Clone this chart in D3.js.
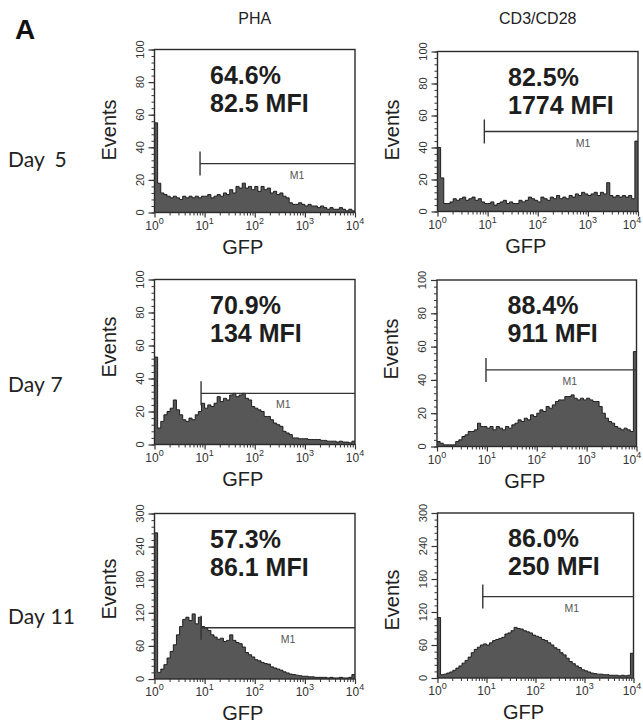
<!DOCTYPE html>
<html><head><meta charset="utf-8">
<script src="https://cdn.jsdelivr.net/npm/d3@7/dist/d3.min.js"></script>
<style>body{margin:0;background:#fff}svg{display:block}</style>
</head><body>
<script>
// ---------- DATA ----------
const conditions = ["PHA", "CD3/CD28"];
const days = ["Day 5", "Day 7", "Day 11"];
const percents = ["64.6%", "82.5%", "70.9%", "88.4%", "57.3%", "86.0%"];
const mfis = ["82.5 MFI", "1774 MFI", "134 MFI", "911 MFI", "86.1 MFI", "250 MFI"];
const yMaxes = [100, 100, 100, 100, 300, 300];
const yTicks100 = [0, 20, 40, 60, 80, 100];
const yTicks300 = [0, 60, 120, 180, 240, 300];
const xTicks = [1, 10, 100, 1000, 10000];
const xTickExps = ["0", "1", "2", "3", "4"];
const gateStart = [8.1, 8.6, 8.5, 9.6, 8.5, 8.4];
const gateLevel = [30, 50, 31, 46, 93, 148];
const gateLabelAt = [700, 800, 370, 460, 460, 550];

// 64 log-spaced channels from 10^0 to 10^4
const pha5 = [55,18,12,11,10,9,10,9,8,10,9,10,9,10,9,10,10,11,9,10,11,10,12,11,14,12,16,15,18,15,16,14,16,13,16,14,15,12,13,11,12,10,9,6,5,5,6,5,4,5,4,4,3,4,3,2,3,2,2,3,2,1,2,1];
const cd5 = [40,21,5,5,6,8,7,8,9,7,8,9,7,8,6,5,5,6,4,5,6,7,5,6,5,5,7,6,7,9,8,7,6,9,8,7,9,8,10,8,9,8,10,9,11,10,12,11,10,11,12,10,12,11,18,10,9,10,9,10,9,10,8,44];
const pha7 = [53,10,14,18,20,22,27,21,18,15,14,16,15,18,20,25,22,24,23,25,29,26,28,27,30,31,29,30,31,28,27,23,22,21,20,17,17,15,13,12,11,8,7,6,4,4,3.5,3.5,3.5,3,3,3,3,2.5,2.5,2,2,2,1.5,2,1.5,1.5,1,2];
const cd7 = [3,2,1,1,1,1,3,4,6,7,9,9,10,14,12,12,11,12,10,12,11,10,12,11,13,14,16,15,17,16,19,18,20,22,21,24,23,25,27,28,28,30,30,31,29,28,29,28,29,28,27,27,24,20,17,15,14,12,11,10,11,10,9,57];
const pha11 = [265,12,18,26,38,50,62,80,95,108,112,106,118,100,112,95,92,88,80,76,72,74,68,70,80,70,66,64,58,48,44,40,35,33,30,28,27,22,20,18,16,13,11,9,8,7,6,5,5,4,4,3,3,3,3,2,3,2,2,3,2,2,3,8];
const cd11 = [110,6,7,9,11,14,18,22,27,32,38,46,52,56,60,62,60,64,68,70,72,74,80,82,86,92,90,89,86,84,82,78,76,74,70,68,64,60,55,52,46,42,36,30,26,22,19,15,13,11,9,8,7,7,6,6,5,5,5,4,5,4,5,45];
const histograms = [pha5, cd5, pha7, cd7, pha11, cd11];

// ---------- LAYOUT ----------
const W = 643, H = 728;
const boxes = [
  {x0:154.5, x1:355, y0:49.5, y1:212.5},
  {x0:437.5, x1:638, y0:51.5, y1:211.5},
  {x0:154.5, x1:355, y0:279.5, y1:444.5},
  {x0:437, x1:636.5, y0:280, y1:446.5},
  {x0:154.5, x1:355, y0:513.5, y1:679},
  {x0:437.5, x1:633.5, y0:513, y1:678}
];
const eventsY = [130, 130, 347, 349, 589, 600];
const sans = "'Liberation Sans', Arial, Helvetica, sans-serif";

const svg = d3.select("body").append("svg").attr("width", W).attr("height", H);

svg.append("text").attr("x", 15).attr("y", 39).text("A")
  .attr("font-family", sans).attr("font-weight", "bold").attr("font-size", 28).attr("fill", "#111");

conditions.forEach((c, i) => {
  const b = boxes[i];
  svg.append("text").attr("x", (b.x0 + b.x1) / 2).attr("y", 24).attr("text-anchor", "middle")
    .attr("font-family", sans).attr("font-size", 16).attr("fill", "#222").text(c);
});
const dayY = [167, 392, 624];
days.forEach((d, i) => {
  svg.append("text").attr("x", 8).attr("y", dayY[i])
    .attr("word-spacing", i === 0 ? 5 : 1)
    .attr("font-family", "Lato, 'Open Sans', sans-serif").attr("font-size", 21).attr("fill", "#222").text(d);
});

histograms.forEach((vals, p) => {
  const b = boxes[p];
  const g = svg.append("g");
  const x = d3.scaleLog().domain([1, 1e4]).range([b.x0, b.x1]);
  const y = d3.scaleLinear().domain([0, yMaxes[p]]).range([b.y1, b.y0]);
  const n = vals.length;
  const pts = vals.map((v, i) => ({e: Math.pow(10, i * 4 / n), v}));
  pts.push({e: 1e4, v: vals[n - 1]});

  const area = d3.area().x(d => x(d.e)).y0(y(0)).y1(d => y(d.v)).curve(d3.curveStepAfter);
  const line = d3.line().x(d => x(d.e)).y(d => y(d.v)).curve(d3.curveStepAfter);
  g.append("path").attr("d", area(pts)).attr("fill", "#575757");
  g.append("path").attr("d", line(pts)).attr("fill", "none").attr("stroke", "#111").attr("stroke-width", 0.9);

  // box
  g.append("rect").attr("x", b.x0).attr("y", b.y0).attr("width", b.x1 - b.x0).attr("height", b.y1 - b.y0)
    .attr("fill", "none").attr("stroke", "#2a2a2a").attr("stroke-width", 1.4);

  // x axis ticks
  const minor = [];
  for (let d = 0; d < 4; d++) for (let k = 2; k <= 9; k++) minor.push(k * Math.pow(10, d));
  g.append("g").attr("transform", `translate(0,${b.y1})`)
    .call(d3.axisBottom(x).tickValues(minor).tickSize(3).tickFormat(""))
    .call(a => a.select(".domain").remove())
    .call(a => a.selectAll("line").attr("stroke", "#333"));
  g.append("g").attr("transform", `translate(0,${b.y1})`)
    .call(d3.axisBottom(x).tickValues(xTicks).tickSize(5).tickFormat(""))
    .call(a => a.select(".domain").remove())
    .call(a => a.selectAll("line").attr("stroke", "#333").attr("stroke-width", 1.2));
  xTicks.forEach((t, i) => {
    let lx = x(t);
    if (lx + 11 > W) lx = W - 11;
    const tx = g.append("text").attr("x", lx).attr("y", b.y1 + 17).attr("text-anchor", "middle")
      .attr("font-family", sans).attr("font-size", 12).attr("fill", "#333");
    tx.append("tspan").text("10");
    tx.append("tspan").attr("dy", -6).attr("font-size", 9).text(xTickExps[i]);
  });
  g.append("text").attr("x", (b.x0 + b.x1) / 2 - 12).attr("y", b.y1 + 41).attr("text-anchor", "middle")
    .attr("font-family", sans).attr("font-size", 20).attr("fill", "#222").text("GFP");

  // y axis ticks
  const yt = yMaxes[p] === 100 ? yTicks100 : yTicks300;
  const step = yMaxes[p] / 25;
  const yminor = d3.range(0, yMaxes[p] + 0.001, step);
  g.append("g").attr("transform", `translate(${b.x0},0)`)
    .call(d3.axisLeft(y).tickValues(yminor).tickSize(3).tickFormat(""))
    .call(a => a.select(".domain").remove())
    .call(a => a.selectAll("line").attr("stroke", "#333"));
  g.append("g").attr("transform", `translate(${b.x0},0)`)
    .call(d3.axisLeft(y).tickValues(yt).tickSize(6).tickFormat(""))
    .call(a => a.select(".domain").remove())
    .call(a => a.selectAll("line").attr("stroke", "#333").attr("stroke-width", 1.2));
  yt.forEach(t => {
    g.append("text").attr("transform", `translate(${b.x0 - 11},${y(t)}) rotate(-90)`)
      .attr("text-anchor", "middle").attr("font-family", sans).attr("font-size", 11).attr("fill", "#333").text(t);
  });
  g.append("text").attr("transform", `translate(${b.x0 - 39},${eventsY[p]}) rotate(-90)`)
    .attr("text-anchor", "middle").attr("font-family", sans).attr("font-size", 20).attr("fill", "#222").text("Events");

  // M1 gate
  const gy = y(gateLevel[p]);
  g.append("line").attr("x1", x(gateStart[p])).attr("x2", b.x1).attr("y1", gy).attr("y2", gy)
    .attr("stroke", "#333").attr("stroke-width", 1.4);
  g.append("line").attr("x1", x(gateStart[p])).attr("x2", x(gateStart[p])).attr("y1", gy - 12).attr("y2", gy + 12)
    .attr("stroke", "#333").attr("stroke-width", 1.4);
  g.append("text").attr("x", x(gateLabelAt[p])).attr("y", gy + 15).attr("text-anchor", "middle")
    .attr("font-family", sans).attr("font-size", 10.5).attr("fill", "#555").text("M1");

  // stats text
  const tx0 = b.x0 + (p % 2 === 0 ? 55.5 : 70.5);
  g.append("text").attr("x", tx0).attr("y", b.y0 + 34).attr("font-family", sans).attr("font-weight", "bold")
    .attr("font-size", 25).attr("fill", "#1e1e1e").text(percents[p]);
  g.append("text").attr("x", tx0).attr("y", b.y0 + 62).attr("font-family", sans).attr("font-weight", "bold")
    .attr("font-size", 25).attr("fill", "#1e1e1e").text(mfis[p]);
});
</script>
</body></html>
